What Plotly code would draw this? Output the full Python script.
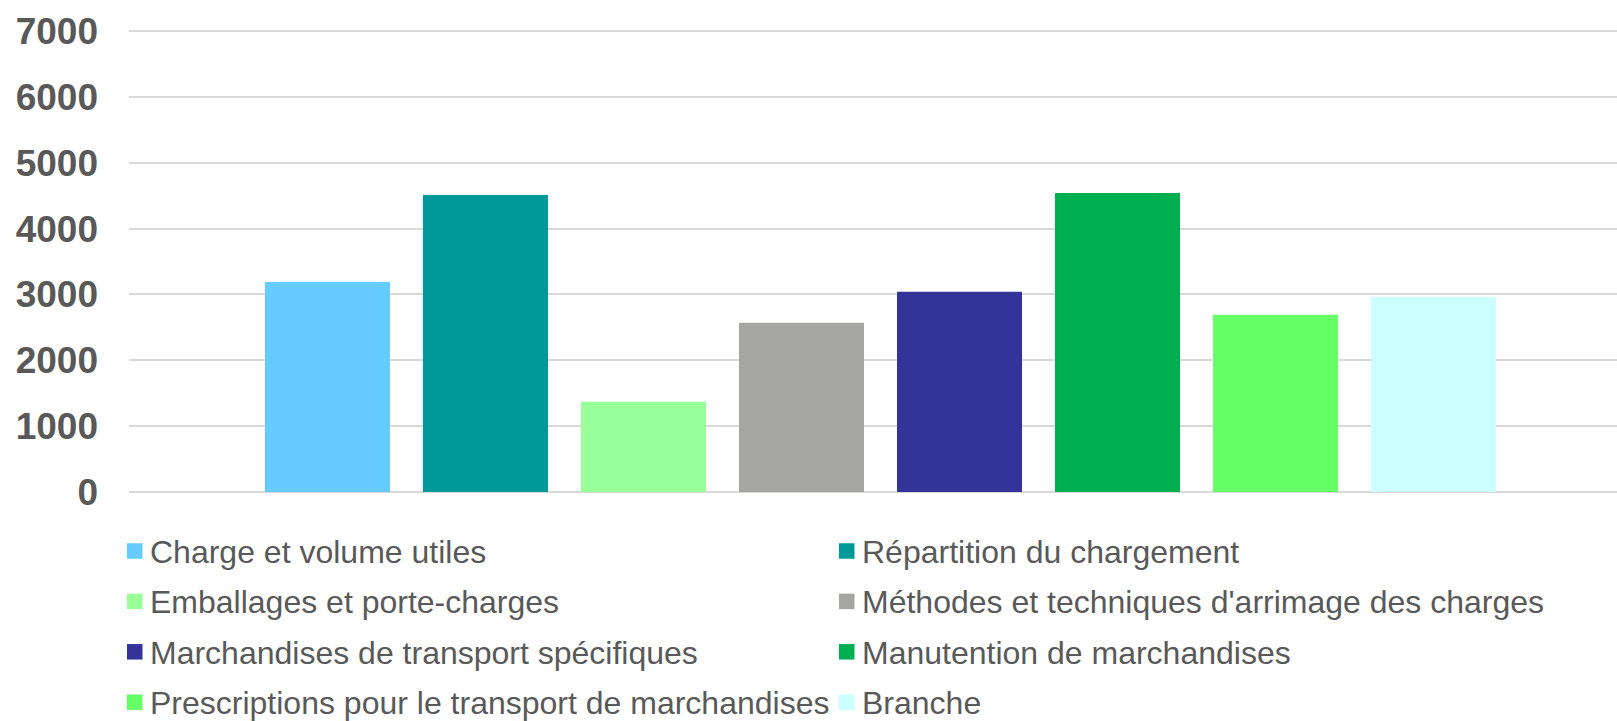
import plotly.graph_objects as go

# Themes and their scores
themes = [
    "Charge et volume utiles",
    "Répartition du chargement",
    "Emballages et porte-charges",
    "Méthodes et techniques d'arrimage des charges",
    "Marchandises de transport spécifiques",
    "Manutention de marchandises",
    "Prescriptions pour le transport de marchandises",
    "Branche",
]
scores = [3190, 4510, 1370, 2570, 3040, 4540, 2690, 2960]
colors = ["#66CCFF", "#009999", "#99FF99", "#A5A5A3",
          "#333399", "#00B050", "#66FF66", "#CCFFFF"]

y_ticks = [0, 1000, 2000, 3000, 4000, 5000, 6000, 7000]

W, H = 1617, 721
M_L, M_R, M_T, M_B = 129, 0, 29, 229
PLOT_W = W - M_L - M_R
PLOT_H = H - M_T - M_B
TEXT_COLOR = "#595959"
FONT = "Liberation Sans, Arial, sans-serif"


def px_x(px):
    """Pixel column -> paper x."""
    return (px - M_L) / PLOT_W


def px_y(py):
    """Pixel row (from top) -> paper y."""
    return (H - M_B - py) / PLOT_H


fig = go.Figure()
for name, val, col in zip(themes, scores, colors):
    fig.add_trace(go.Bar(
        x=[""], y=[val], name=name,
        marker=dict(color=col, line=dict(width=0)),
    ))

# Two-column legend below the plot: colour square + label per theme
legend_cols = [127, 839]      # left edge of the square in each column
row_top, row_step = 551.0, 50.4
sq = 15.5
shapes, annotations = [], []
for i, (name, col) in enumerate(zip(themes, colors)):
    c, r = i % 2, i // 2
    x0 = legend_cols[c]
    yc = row_top + r * row_step
    shapes.append(dict(
        type="rect", xref="paper", yref="paper",
        x0=px_x(x0), x1=px_x(x0 + sq),
        y0=px_y(yc + sq / 2), y1=px_y(yc - sq / 2),
        fillcolor=col, line=dict(width=0), layer="above",
    ))
    annotations.append(dict(
        text=name, xref="paper", yref="paper",
        x=px_x(x0 + sq + 6), y=px_y(yc + 1),
        xanchor="left", yanchor="middle", showarrow=False,
        borderpad=0,
        font=dict(size=32, family=FONT, color=TEXT_COLOR),
    ))

fig.update_layout(
    width=W, height=H,
    margin=dict(l=M_L, r=M_R, t=M_T, b=M_B, autoexpand=False),
    paper_bgcolor="white", plot_bgcolor="white",
    barmode="group",
    bargap=0.1505,
    bargroupgap=0.2089,
    font=dict(family=FONT, color=TEXT_COLOR),
    showlegend=False,
    xaxis=dict(
        range=[-0.50504, 0.49496],
        showticklabels=False, showgrid=False, zeroline=False,
        showline=False, ticks="",
    ),
    yaxis=dict(
        range=[0, 7030],
        tickvals=y_ticks,
        tickfont=dict(size=37, family=FONT, color=TEXT_COLOR, weight="bold"),
        showgrid=True, gridcolor="#D9D9D9", gridwidth=1.5,
        zeroline=True, zerolinecolor="#D9D9D9", zerolinewidth=1.5,
        showline=False, ticks="",
        ticklabelstandoff=30,
    ),
    shapes=shapes,
    annotations=annotations,
)

fig.write_html("out.html")
